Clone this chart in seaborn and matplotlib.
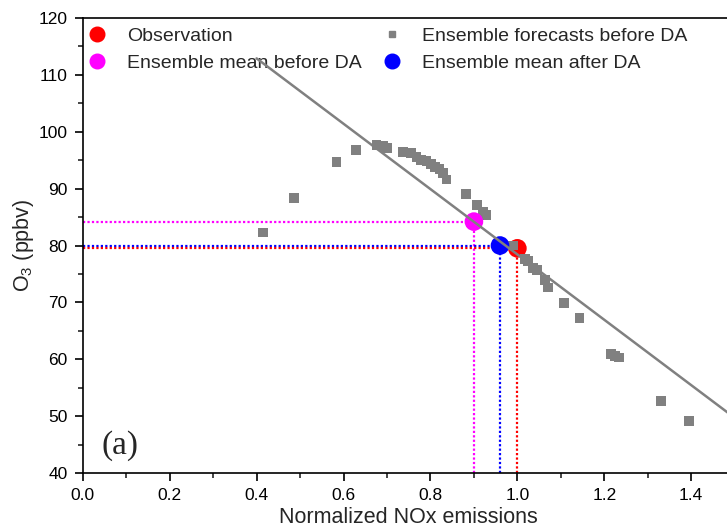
import matplotlib
matplotlib.use("Agg")
import matplotlib.pyplot as plt
from matplotlib.lines import Line2D
from matplotlib.ticker import MultipleLocator, FormatStrFormatter
import numpy as np
import pandas as pd
import seaborn as sns

# Ensemble forecasts before DA (normalized NOx emissions, O3 in ppbv)
ens_nox = [0.414, 0.486, 0.584, 0.629, 0.676, 0.691, 0.700, 0.737, 0.756,
           0.768, 0.779, 0.791, 0.802, 0.810, 0.821, 0.829, 0.837, 0.881,
           0.908, 0.921, 0.927, 0.990, 1.017, 1.024, 1.036, 1.045, 1.063,
           1.070, 1.107, 1.143, 1.216, 1.224, 1.233, 1.331, 1.394]
ens_o3 = [82.3, 88.3, 94.7, 96.8, 97.6, 97.5, 97.2, 96.5, 96.2,
          95.5, 95.0, 94.9, 94.4, 93.8, 93.4, 92.7, 91.6, 89.0,
          87.1, 85.9, 85.3, 80.0, 77.6, 77.3, 76.0, 75.7, 74.0,
          72.6, 69.9, 67.2, 60.9, 60.6, 60.3, 52.7, 49.2]

# Single points: observation and ensemble means
obs_nox, obs_o3 = 1.00, 79.5
prior_nox, prior_o3 = 0.90, 84.2
post_nox, post_o3 = 0.96, 80.0

# Linear sensitivity line
fit_nox = [0.40, 1.50]
fit_o3 = [112.9, 49.7]

GRAY = "#808080"
RED = "#FF0000"
MAGENTA = "#FF00FF"
BLUE = "#0000FF"

sns.set_style("ticks")
plt.rcParams["font.family"] = ["Liberation Sans", "DejaVu Sans"]
plt.rcParams["mathtext.default"] = "regular"
plt.rcParams["axes.linewidth"] = 1.2

fig = plt.figure(figsize=(7.27, 5.28), dpi=100)
ax = fig.add_axes([82.7 / 727, 1 - 473 / 528, 652 / 727, 455 / 528])

ymin = 40
# dotted guide lines from each point to the axes
for x0, y0, c in [(prior_nox, prior_o3, MAGENTA), (post_nox, post_o3, BLUE),
                  (obs_nox, obs_o3, RED)]:
    ax.plot([0, x0], [y0, y0], ls=(0, (1, 1)), lw=1.6, color=c, zorder=2)
    ax.plot([x0, x0], [ymin, y0], ls=(0, (1, 1)), lw=1.6, color=c, zorder=2)

sns.scatterplot(x=[obs_nox], y=[obs_o3], ax=ax, color=RED, s=180,
                edgecolor="none", zorder=3)
ens = pd.DataFrame({"nox": ens_nox, "o3": ens_o3})
sns.scatterplot(data=ens, x="nox", y="o3", ax=ax, marker="s", color=GRAY,
                s=50, edgecolor="none", zorder=4)
sns.scatterplot(x=[prior_nox], y=[prior_o3], ax=ax, color=MAGENTA, s=180,
                edgecolor="none", zorder=5)
sns.scatterplot(x=[post_nox], y=[post_o3], ax=ax, color=BLUE, s=180,
                edgecolor="none", zorder=5)
sns.lineplot(x=fit_nox, y=fit_o3, ax=ax, color=GRAY, lw=1.8, zorder=6)

ax.set_xlim(0, 1.5)
ax.set_ylim(40, 120)
ax.xaxis.set_major_locator(MultipleLocator(0.2))
ax.xaxis.set_minor_locator(MultipleLocator(0.1))
ax.xaxis.set_major_formatter(FormatStrFormatter("%.1f"))
ax.yaxis.set_major_locator(MultipleLocator(10))
ax.yaxis.set_minor_locator(MultipleLocator(5))
ax.tick_params(which="major", direction="out", length=6, width=1.2,
               labelsize=12.5, colors="black", pad=5)
ax.tick_params(which="minor", direction="out", length=3.5, width=1.2)
ax.tick_params(top=False, right=False, which="both")
for sp in ax.spines.values():
    sp.set_visible(True)
    sp.set_color("black")

ax.set_xlabel("Normalized NOx emissions", fontsize=15.5, labelpad=3)
ax.set_ylabel("O$_3$ (ppbv)", fontsize=15.5, labelpad=2)

ax.text(0.085, 44.9, "(a)", fontsize=24, family="Liberation Serif",
        ha="center", va="center")

handles = [
    Line2D([], [], ls="none", marker="o", color=RED, markersize=10.5, label="Observation"),
    Line2D([], [], ls="none", marker="o", color=MAGENTA, markersize=10.5, label="Ensemble mean before DA"),
    Line2D([], [], ls="none", marker="s", color=GRAY, markersize=4.5, label="Ensemble forecasts before DA"),
    Line2D([], [], ls="none", marker="o", color=BLUE, markersize=10.5, label="Ensemble mean after DA"),
]
ax.legend(handles=handles, ncol=2, frameon=False, fontsize=14,
          loc="upper left", bbox_to_anchor=(87.3 / 727, 1 - 27 / 528),
          bbox_transform=fig.transFigure, borderaxespad=0, borderpad=0,
          handlelength=1.0, handletextpad=1.05, columnspacing=1.05,
          labelspacing=0.5)

fig.savefig("out.png", dpi=100)
